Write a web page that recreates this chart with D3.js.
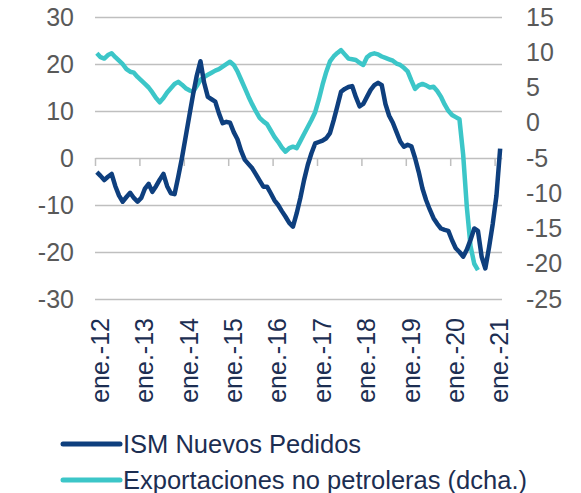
<!DOCTYPE html>
<html>
<head>
<meta charset="utf-8">
<script src="https://cdn.jsdelivr.net/npm/d3@7"></script>
<style>
  body { margin: 0; background: #fff; }
  svg { font-family: 'Liberation Sans', Arial, sans-serif; }
  .grid line, .axis-zero line { stroke: #bfbfbf; stroke-width: 1.5; }
  .axis-left text, .axis-right text { fill: #595959; font-size: 25px; }
  .axis-x text { fill: #1c2e52; font-size: 25px; }
  .legend text { fill: #1c2e52; font-size: 25.5px; }
</style>
</head>
<body>
<div id="chart"></div>
<script>
// monthly data starting ene.-12
const xTickLabels = ['ene.-12', 'ene.-13', 'ene.-14', 'ene.-15', 'ene.-16', 'ene.-17', 'ene.-18', 'ene.-19', 'ene.-20', 'ene.-21'];
const seriesNames = ['ISM Nuevos Pedidos', 'Exportaciones no petroleras (dcha.)'];

const ismNuevosPedidos = [
  -3, -3.8, -4.7, -4, -3.4, -6, -8, -9.3, -8.3, -7.4, -8.5, -9.3,
  -8.5, -6.5, -5.5, -7.2, -6, -4.6, -3.4, -6, -7.5, -7.7, -4, 0,
  4.5, 9, 13.5, 17.5, 20.6, 16, 13, 12.5, 12, 9.5, 7.4, 7.7,
  7.5, 5.5, 4, 1.5, -0.4, -1.3, -2.2, -3.5, -4.8, -6.1, -6.1, -7.5,
  -9, -10, -11.3, -12.5, -13.8, -14.6, -11.8, -8.5, -4.7, -1.5, 1, 3.1,
  3.4, 3.7, 4.2, 5.3, 8, 11, 14.1, 14.7, 15.1, 15.3, 13, 11,
  11.5, 13, 14.5, 15.5, 16, 15.5, 11.5, 9, 7.5, 5.5, 3.5, 2.4,
  2.8, 2.5, 0, -3, -6.5, -9, -11, -12.8, -14, -15, -15.3, -15.5,
  -17.5, -19.2, -20, -21, -19.5, -17.4, -15, -15.5, -21, -23.5, -19, -14,
  -8, 2
];

const exportacionesNoPetroleras = [
  9.85, 9.3, 9.1, 9.6, 9.85, 9.3, 8.8, 8.3, 7.6, 7.24, 7.1, 6.5,
  6.0, 5.5, 5.0, 4.3, 3.5, 2.9, 3.5, 4.3, 4.9, 5.5, 5.8, 5.4,
  4.9, 4.6, 4.4, 5.2, 6.1, 6.5, 6.8, 7.1, 7.4, 7.6, 7.95, 8.3,
  8.66, 8.2, 7.3, 6.1, 4.9, 3.7, 2.6, 1.6, 0.7, 0.2, -0.2, -1.1,
  -2, -2.7, -3.5, -4.1, -3.6, -3.4, -3.6, -2.6, -1.6, -0.6, 0.4, 1.5,
  3.3, 5.4, 7.2, 8.7, 9.4, 9.9, 10.3, 9.7, 9.1, 9.0, 8.9, 8.5,
  8.2, 9.3, 9.7, 9.85, 9.7, 9.4, 9.2, 9.0, 8.8, 8.4, 8.2, 7.8,
  7.3, 6.0, 4.8, 5.3, 5.5, 5.3, 5.0, 5.1, 4.5, 3.7, 2.6, 1.7,
  1.1, 0.8, 0.5, -4.5, -12, -17.5, -20, -20.9
];

const leftTicks = [-30, -20, -10, 0, 10, 20, 30];
const rightTicks = [-25, -20, -15, -10, -5, 0, 5, 10, 15];
const colors = ['#0e3f7e', '#3cc6c8'];

const width = 581;
const height = 493;
const plot = { left: 95, right: 502, top: 17, bottom: 299 };

const svg = d3.select('#chart').append('svg')
  .attr('width', width)
  .attr('height', height);

// scales: x is month index, points sit in the middle of each month
const xScale = d3.scaleLinear().domain([0, 110]).range([plot.left, plot.right]);
const yLeft = d3.scaleLinear().domain([-30, 30]).range([plot.bottom, plot.top]);
const yRight = d3.scaleLinear().domain([-25, 15]).range([plot.bottom, plot.top]);

// plain hyphen for negatives, like the original
const fmt = d => String(d);

// horizontal gridlines
svg.append('g')
  .attr('class', 'grid')
  .attr('transform', `translate(${plot.left}, 0)`)
  .call(d3.axisRight(yLeft).tickValues(leftTicks.filter(d => d !== 0))
    .tickSize(plot.right - plot.left).tickFormat(''))
  .call(g => g.select('.domain').remove());

// zero line with year ticks
const yearTicks = xTickLabels.map((d, i) => i * 12);
svg.append('g')
  .attr('class', 'axis-zero')
  .attr('transform', `translate(0, ${yLeft(0)})`)
  .call(d3.axisBottom(xScale).tickValues(yearTicks).tickSize(8).tickFormat('').tickSizeOuter(0))
  .call(g => g.select('.domain').attr('stroke', '#bfbfbf').attr('stroke-width', 1.5));

// y axes
svg.append('g')
  .attr('class', 'axis-left')
  .attr('transform', 'translate(74, 0)')
  .call(d3.axisLeft(yLeft).tickValues(leftTicks).tickSize(0).tickPadding(0).tickFormat(fmt))
  .call(g => g.select('.domain').remove());

svg.append('g')
  .attr('class', 'axis-right')
  .attr('transform', 'translate(526, 0)')
  .call(d3.axisRight(yRight).tickValues(rightTicks).tickSize(0).tickPadding(0).tickFormat(fmt))
  .call(g => g.select('.domain').remove());

// x labels, rotated, below the plot
svg.append('g')
  .attr('class', 'axis-x')
  .attr('transform', 'translate(4.5, 318)')
  .call(d3.axisBottom(xScale).tickValues(yearTicks).tickSize(0)
    .tickFormat((d, i) => xTickLabels[i]))
  .call(g => g.select('.domain').remove())
  .selectAll('text')
  .attr('transform', 'rotate(-90)')
  .attr('text-anchor', 'end')
  .attr('x', 0)
  .attr('y', 0)
  .attr('dy', '0.35em');

// lines
const lineLeft = d3.line().x((d, i) => xScale(i + 0.5)).y(d => yLeft(d));
const lineRight = d3.line().x((d, i) => xScale(i + 0.5)).y(d => yRight(d));

svg.append('path')
  .datum(exportacionesNoPetroleras)
  .attr('fill', 'none')
  .attr('stroke', colors[1])
  .attr('stroke-width', 4.5)
  .attr('stroke-linejoin', 'round')
  .attr('d', lineRight);

svg.append('path')
  .datum(ismNuevosPedidos)
  .attr('fill', 'none')
  .attr('stroke', colors[0])
  .attr('stroke-width', 4.5)
  .attr('stroke-linejoin', 'round')
  .attr('d', lineLeft);

// legend
const legend = svg.append('g').attr('class', 'legend');
seriesNames.forEach((name, i) => {
  const y = 444 + i * 36;
  legend.append('line')
    .attr('x1', 63).attr('x2', 120)
    .attr('y1', y).attr('y2', y)
    .attr('stroke', colors[i])
    .attr('stroke-width', 5)
    .attr('stroke-linecap', 'round');
  legend.append('text')
    .attr('x', 123)
    .attr('y', y)
    .attr('dy', '0.35em')
    .text(name);
});
</script>
</body>
</html>
